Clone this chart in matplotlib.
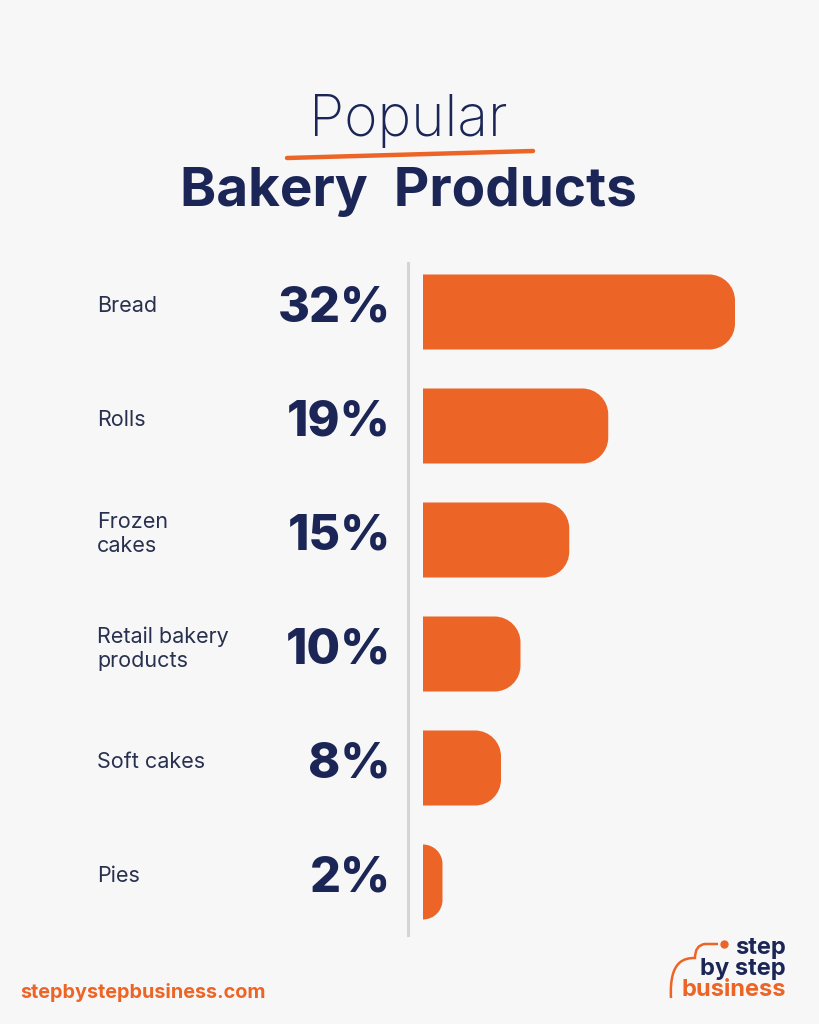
import matplotlib.pyplot as plt
from matplotlib.path import Path
from matplotlib.patches import PathPatch
from matplotlib.lines import Line2D
import matplotlib.transforms as mtransforms

categories = ["Bread", "Rolls", "Frozen\ncakes", "Retail bakery\nproducts", "Soft cakes", "Pies"]
values = [32, 19, 15, 10, 8, 2]
value_labels = ["32%", "19%", "15%", "10%", "8%", "2%"]

navy = "#1b2656"
label_col = "#28304f"
orange = "#ec6526"
bg = "#f7f7f7"

W, H = 819, 1024


def fx(px):
    return px / W


def fy(py):
    return 1 - py / H


def rounded_bar(ax, y, w, h, r_px, color):
    # bar with square left end and rounded right corners
    bb = ax.get_window_extent()
    x0, x1 = ax.get_xlim()
    y0, y1 = ax.get_ylim()
    ppx = bb.width / (x1 - x0)
    ppy = bb.height / abs(y1 - y0)
    r = min(r_px, w * ppx)
    rx = r / ppx
    ry = r / ppy
    k = 0.5523
    top = y - h / 2
    bot = y + h / 2
    verts = [(0, top), (w - rx, top),
             (w - rx + k * rx, top), (w, top + ry - k * ry), (w, top + ry),
             (w, bot - ry),
             (w, bot - ry + k * ry), (w - rx + k * rx, bot), (w - rx, bot),
             (0, bot), (0, top)]
    codes = [Path.MOVETO, Path.LINETO,
             Path.CURVE4, Path.CURVE4, Path.CURVE4,
             Path.LINETO,
             Path.CURVE4, Path.CURVE4, Path.CURVE4,
             Path.LINETO, Path.CLOSEPOLY]
    ax.add_patch(PathPatch(Path(verts, codes), facecolor=color, edgecolor="none"))


def main():
    plt.rcParams['font.family'] = ['Inter', 'DejaVu Sans']
    fig = plt.figure(figsize=(W / 100, H / 100), dpi=100)
    fig.patch.set_facecolor(bg)

    # title
    fig.text(fx(408), fy(121), "Popular", ha="center", va="center",
             fontsize=41, fontweight="light", color=navy)
    fig.add_artist(Line2D([fx(287), fx(533)], [fy(158), fy(151)], color=orange,
                          linewidth=3.2, solid_capstyle="round"))
    fig.text(fx(408), fy(192), "Bakery  Products", ha="center", va="center",
             fontsize=39.5, fontweight="bold", color=navy)

    # bars
    n = len(values)
    row = 114
    top_px = 312 - row / 2
    ax = fig.add_axes([fx(423), fy(top_px + n * row), 312 / W, n * row / H])
    ax.set_xlim(0, max(values))
    ax.set_ylim(n - 0.5, -0.5)
    ax.axis("off")
    bar_h = 75 / row
    for i, v in enumerate(values):
        rounded_bar(ax, i, v, bar_h, 26, orange)

    # divider line
    fig.add_artist(Line2D([fx(408), fx(408)], [fy(263), fy(935)], color="#d4d4d4",
                          linewidth=2.2))

    tr = mtransforms.blended_transform_factory(fig.transFigure, ax.transData)
    for i, (c, lab) in enumerate(zip(categories, value_labels)):
        ax.text(fx(97), i - 0.05, c, transform=tr, ha="left", va="center",
                fontsize=15.5, color=label_col, linespacing=1.25)
        ax.text(fx(391), i - 0.03, lab, transform=tr, ha="right", va="center",
                fontsize=35, fontweight="heavy", color=navy)

    # footer
    fig.text(fx(20), fy(993), "stepbystepbusiness.com", ha="left", va="center",
             fontsize=14.3, fontweight="bold", color=orange)

    # logo
    fig.text(fx(786), fy(948), "step", ha="right", va="center",
             fontsize=17, fontweight="bold", color=navy)
    fig.text(fx(786), fy(969), "by step", ha="right", va="center",
             fontsize=17, fontweight="bold", color=navy)
    fig.text(fx(786), fy(990), "business", ha="right", va="center",
             fontsize=17, fontweight="bold", color=orange)
    arc = Path([(fx(671), fy(998)), (fx(669), fy(960)), (fx(685), fy(958)),
                (fx(695), fy(958)), (fx(695), fy(945)), (fx(705), fy(944)),
                (fx(718), fy(944))],
               [Path.MOVETO, Path.CURVE4, Path.CURVE4, Path.CURVE4,
                Path.CURVE3, Path.CURVE3, Path.LINETO])
    fig.add_artist(PathPatch(arc, transform=fig.transFigure, facecolor="none",
                             edgecolor=orange, linewidth=1.8))
    fig.add_artist(Line2D([fx(724)], [fy(944)], marker="o", markersize=5,
                          color=orange, linestyle="none"))

    fig.savefig("out.png", dpi=100, facecolor=bg)


if __name__ == "__main__":
    main()
